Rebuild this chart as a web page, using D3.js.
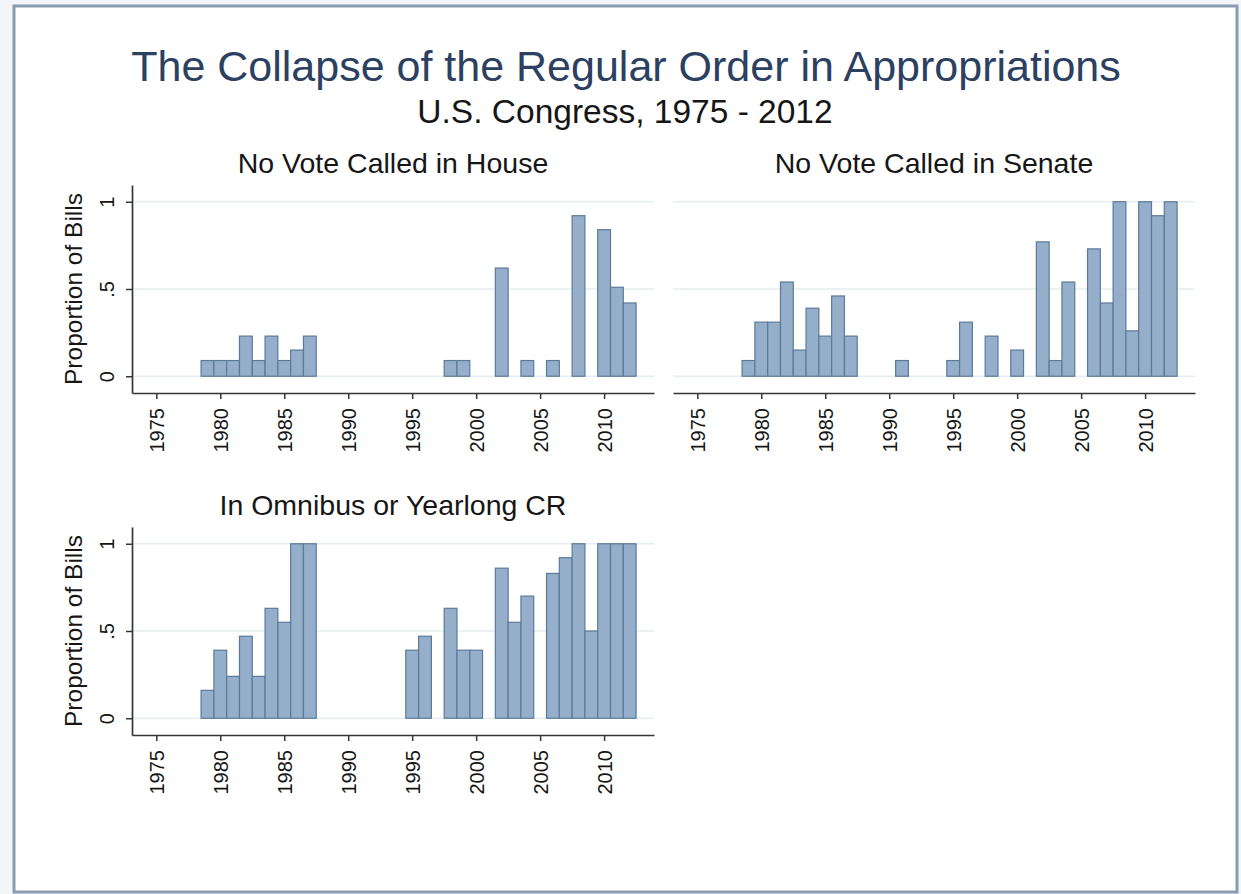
<!DOCTYPE html>
<html>
<head>
<meta charset="utf-8">
<script src="https://cdn.jsdelivr.net/npm/d3@7"></script>
<style>
  body { margin: 0; background: #f2f6f8; }
  svg { display: block; font-family: "Liberation Sans", Arial, Helvetica, sans-serif; }
</style>
</head>
<body>
<div id="chart"></div>
<script>
// Values: proportion of bills, by year
var houseYears  = [1979, 1980, 1981, 1982, 1983, 1984, 1985, 1986, 1987, 1998, 1999, 2002, 2004, 2006, 2008, 2010, 2011, 2012];
var houseValues = [0.09, 0.09, 0.09, 0.23, 0.09, 0.23, 0.09, 0.15, 0.23, 0.09, 0.09, 0.62, 0.09, 0.09, 0.92, 0.84, 0.51, 0.42];

var senateYears  = [1979, 1980, 1981, 1982, 1983, 1984, 1985, 1986, 1987, 1991, 1995, 1996, 1998, 2000, 2002, 2003, 2004, 2006, 2007, 2008, 2009, 2010, 2011, 2012];
var senateValues = [0.09, 0.31, 0.31, 0.54, 0.15, 0.39, 0.23, 0.46, 0.23, 0.09, 0.09, 0.31, 0.23, 0.15, 0.77, 0.09, 0.54, 0.73, 0.42, 1.00, 0.26, 1.00, 0.92, 1.00];

var omnibusYears  = [1979, 1980, 1981, 1982, 1983, 1984, 1985, 1986, 1987, 1995, 1996, 1998, 1999, 2000, 2002, 2003, 2004, 2006, 2007, 2008, 2009, 2010, 2011, 2012];
var omnibusValues = [0.16, 0.39, 0.24, 0.47, 0.24, 0.63, 0.55, 1.00, 1.00, 0.39, 0.47, 0.63, 0.39, 0.39, 0.86, 0.55, 0.70, 0.83, 0.92, 1.00, 0.50, 1.00, 1.00, 1.00];

var xTickYears  = [1975, 1980, 1985, 1990, 1995, 2000, 2005, 2010];
var yTickValues = [0, 0.5, 1];
var yTickLabels = ["0", ".5", "1"];

var mainTitle = "The Collapse of the Regular Order in Appropriations";
var subTitle = "U.S. Congress, 1975 - 2012";
var yTitle = "Proportion of Bills";

var panels = [
  {title: "No Vote Called in House",      years: houseYears,   values: houseValues,   left: 132, top: 185, showY: true},
  {title: "No Vote Called in Senate",     years: senateYears,  values: senateValues,  left: 673, top: 185, showY: false},
  {title: "In Omnibus or Yearlong CR",    years: omnibusYears, values: omnibusValues, left: 132, top: 527, showY: true}
];

var chartWidth = 1241, chartHeight = 894;
var plotW = 522, plotH = 208;

var barFill = "#95aec9", barStroke = "#5b7a9a";
var axisColor = "#363636", gridColor = "#e6eef0";
var textColor = "#161616";

var svg = d3.select("#chart")
  .append("svg")
  .attr("width", chartWidth)
  .attr("height", chartHeight);

// outer frame
svg.append("rect")
  .attr("x", 14).attr("y", 6)
  .attr("width", 1223).attr("height", 886)
  .attr("fill", "#ffffff")
  .attr("stroke", "#8a9cb2")
  .attr("stroke-width", 3);

svg.append("text")
  .attr("x", 626).attr("y", 81)
  .attr("text-anchor", "middle")
  .style("font-size", "43px")
  .attr("fill", "#2c4062")
  .text(mainTitle);

svg.append("text")
  .attr("x", 625).attr("y", 123)
  .attr("text-anchor", "middle")
  .style("font-size", "33.5px")
  .attr("fill", textColor)
  .text(subTitle);

// same scales for every panel, shifted by a transform
var xScale = d3.scaleLinear()
    .domain([1973.1, 2013.9])
    .range([0, plotW]);

var yScale = d3.scaleLinear()
    .domain([-0.096, 1.096])
    .range([plotH, 0]);

panels.forEach(function(p) {
  var g = svg.append("g")
    .attr("transform", "translate(" + p.left + "," + p.top + ")");

  // faint grid lines
  g.selectAll("line.grid")
    .data(yTickValues)
    .enter().append("line")
    .attr("class", "grid")
    .attr("x1", 0).attr("x2", plotW)
    .attr("y1", function(d) { return yScale(d); })
    .attr("y2", function(d) { return yScale(d); })
    .attr("stroke", gridColor)
    .attr("stroke-width", 1.5);

  var data = p.years.map(function(y, i) { return {year: y, value: p.values[i]}; });

  g.selectAll("rect.bar")
    .data(data)
    .enter().append("rect")
    .attr("class", "bar")
    .attr("x", function(d) { return xScale(d.year - 0.5); })
    .attr("width", function(d) { return xScale(d.year + 0.5) - xScale(d.year - 0.5); })
    .attr("y", function(d) { return yScale(d.value); })
    .attr("height", function(d) { return yScale(0) - yScale(d.value); })
    .attr("fill", barFill)
    .attr("stroke", barStroke)
    .attr("stroke-width", 1.2);

  // x axis
  var xAxis = g.append("g")
    .attr("transform", "translate(0," + plotH + ")")
    .call(d3.axisBottom(xScale)
      .tickValues(xTickYears)
      .tickSize(6)
      .tickSizeOuter(0)
      .tickFormat(d3.format("d")));

  xAxis.select(".domain").attr("stroke", axisColor).attr("stroke-width", 1.7);
  xAxis.selectAll(".tick line").attr("stroke", axisColor).attr("stroke-width", 1.5);
  xAxis.selectAll(".tick text")
    .attr("transform", "rotate(-90)")
    .attr("text-anchor", "end")
    .attr("x", -15)
    .attr("y", 0)
    .attr("dy", "0.36em")
    .attr("fill", textColor)
    .style("font-size", "20px")
    .style("font-family", "'Liberation Sans', Arial, sans-serif");

  if (p.showY) {
    var yAxis = g.append("g")
      .call(d3.axisLeft(yScale)
        .tickValues(yTickValues)
        .tickSize(6)
        .tickSizeOuter(0)
        .tickFormat(function(d, i) { return yTickLabels[i]; }));

    yAxis.select(".domain").attr("stroke", axisColor).attr("stroke-width", 1.7);
    yAxis.selectAll(".tick line").attr("stroke", axisColor).attr("stroke-width", 1.5);
    yAxis.selectAll(".tick text")
      .attr("transform", "rotate(-90)")
      .attr("text-anchor", "middle")
      .attr("x", 0)
      .attr("y", -18.5)
      .attr("dy", 0)
      .attr("fill", textColor)
      .style("font-size", "20px")
      .style("font-family", "'Liberation Sans', Arial, sans-serif");

    g.append("text")
      .attr("transform", "translate(-50.5," + (plotH / 2) + ") rotate(-90)")
      .attr("text-anchor", "middle")
      .style("font-size", "24.5px")
      .attr("fill", textColor)
      .text(yTitle);
  }

  // panel title
  g.append("text")
    .attr("x", plotW / 2)
    .attr("y", -12.5)
    .attr("text-anchor", "middle")
    .style("font-size", "28.5px")
    .attr("fill", textColor)
    .text(p.title);
});
</script>
</body>
</html>
